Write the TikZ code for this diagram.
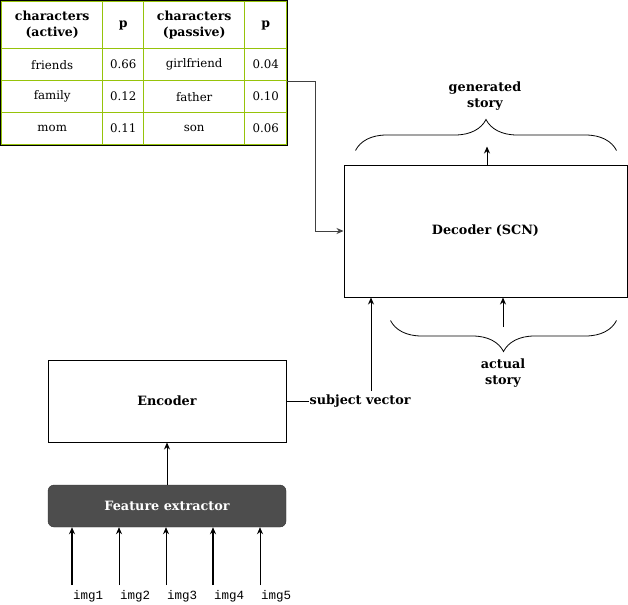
\documentclass[tikz,border=0pt]{standalone}
\usepackage{fontspec}
\setmainfont{DejaVu Serif}
\setmonofont{Liberation Mono}
\usetikzlibrary{matrix, arrows.meta, decorations.pathreplacing}
\definecolor{tabgreen}{RGB}{150,195,10}
\definecolor{boxgrey}{RGB}{77,77,77}
\newcommand{\tabfont}{\fontsize{11.8}{16}\selectfont}
\newcommand{\boxfont}{\fontsize{12.8}{16}\selectfont\bfseries}

\begin{document}
\begin{tikzpicture}[x=1pt, y=-1pt,
  box/.style={draw, line width=1pt, minimum width=238pt, minimum height=82pt, font=\boxfont},
  fe/.style={draw=black!80, fill=boxgrey, rounded corners=6pt, text=white, minimum width=238pt, minimum height=42pt, font=\boxfont},
  cell/.style={draw=tabgreen, line width=1pt, minimum height=32pt, inner sep=0pt, align=center, font=\tabfont},
  head/.style={cell, minimum height=47pt, font=\fontsize{12.5}{16}\selectfont\bfseries},
  arr/.style={-{Stealth[length=7pt,width=6pt]}, line width=0.9pt},
  brc/.style={decorate, decoration={brace, amplitude=31pt}, line width=0.8pt},
  lbl/.style={font=\boxfont, align=center, inner sep=1pt},
  imglbl/.style={font=\fontsize{12.5}{14}\selectfont\ttfamily, anchor=north west, inner sep=1pt}]
\useasboundingbox (0,0) rectangle (628,604);

\matrix (tab) [anchor=north west, inner sep=0pt, column sep=-1pt, row sep=-1pt,
  column 1/.style={nodes={minimum width=101pt}},
  column 2/.style={nodes={minimum width=41pt}},
  column 3/.style={nodes={minimum width=101pt}},
  column 4/.style={nodes={minimum width=42pt}}] at (1,1) {
  \node[head](h1){characters\\(active)}; & \node[head](h2){p}; & \node[head](h3){characters\\(passive)}; & \node[head](h4){p}; \\
  \node[cell](a1){friends}; & \node[cell](p1){0.66}; & \node[cell](b1){girlfriend}; & \node[cell](q1){0.04}; \\
  \node[cell](a2){family}; & \node[cell](p2){0.12}; & \node[cell](b2){father}; & \node[cell](q2){0.10}; \\
  \node[cell](a3){mom}; & \node[cell](p3){0.11}; & \node[cell](b3){son}; & \node[cell](q3){0.06}; \\
};
\draw[line width=1pt] ([shift={(-0.5,-0.5)}]tab.north west) rectangle ([shift={(0.5,0.5)}]tab.south east);

\node[box, minimum width=283pt, minimum height=132pt] (dec) at (485.5,231) {Decoder (SCN)};
\node[box] (enc) at (167,401) {Encoder};
\node[fe] (fe) at (167,506) {Feature extractor};

\draw[arr, draw=black!75] (q1.south east) -- ++(28,0) |- (dec.west);

% decoder output
\draw[arr] ([xshift=1.5pt]dec.north) -- ++(0,-18);
\draw[brc] ([shift={(12,-14)}]dec.north west) -- ([shift={(-11,-14)}]dec.north east);
\node[lbl] (gen) at (485,96) {generated\\story};

% decoder inputs
\node[lbl] (act) at (503,373) {actual\\story};
\draw[brc] ([shift={(-11,23)}]dec.south east) -- ([shift={(47,23)}]dec.south west);
\coordinate (actin) at (503,327);
\draw[arr] (actin) -- (actin |- dec.south);

\node[lbl, anchor=west] (sv) at ([xshift=22pt]enc.east) {subject vector};
\draw[line width=0.8pt] (enc.east) -- (sv.west);
\coordinate (svup) at (371,391);
\draw[arr] (svup) -- (svup |- dec.south);

\draw[arr] (fe) -- (enc);

% images
\coordinate (i1) at (72,585);
\coordinate (i2) at (119,585);
\coordinate (i3) at (166,585);
\coordinate (i4) at (213,585);
\coordinate (i5) at (260,585);
\draw[arr, line width=1.6pt] (i1) -- (i1 |- fe.south);
\draw[arr] (i2) -- (i2 |- fe.south);
\draw[arr] (i3) -- (i3 |- fe.south);
\draw[arr, line width=1.6pt] (i4) -- (i4 |- fe.south);
\draw[arr] (i5) -- (i5 |- fe.south);
\node[imglbl] (l1) at ([yshift=-4pt]i1) {img1};
\node[imglbl] (l2) at ([yshift=-4pt]i2) {img2};
\node[imglbl] (l3) at ([yshift=-4pt]i3) {img3};
\node[imglbl] (l4) at ([yshift=-4pt]i4) {img4};
\node[imglbl] (l5) at ([yshift=-4pt]i5) {img5};
\end{tikzpicture}
\end{document}
